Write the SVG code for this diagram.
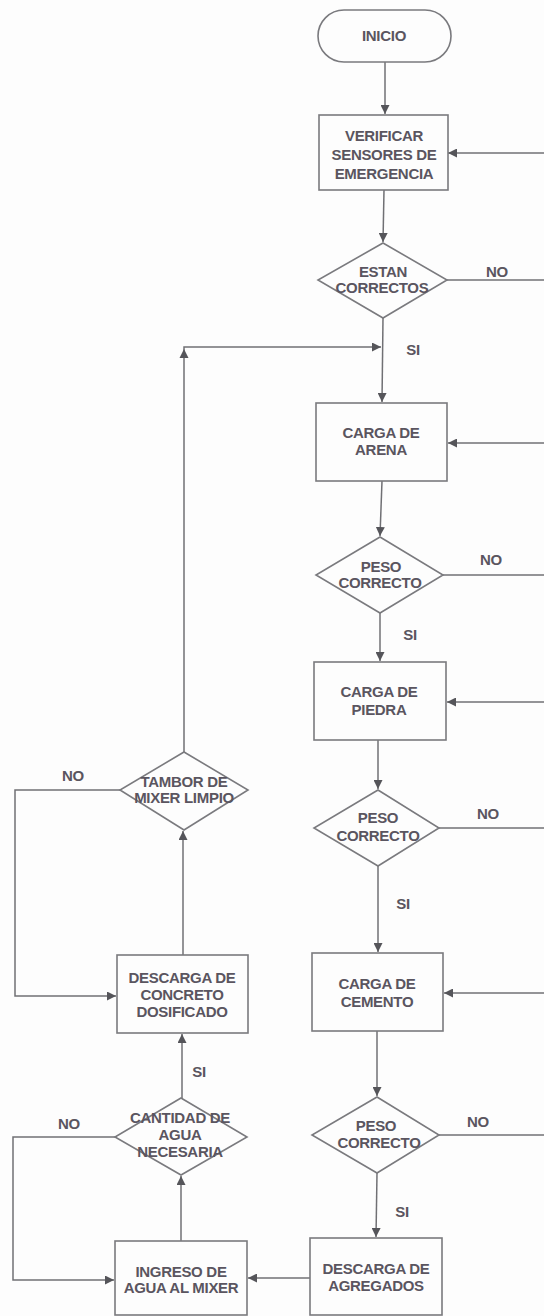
<svg xmlns="http://www.w3.org/2000/svg" width="544" height="1316" viewBox="0 0 544 1316">
<style>
.bg{fill:#fdfdfd}
.n{fill:#fdfdfd;stroke:#7a7a7e;stroke-width:1.6}
.t{font-family:"Liberation Sans",Arial,sans-serif;font-size:15px;font-weight:bold;fill:#5a5560;text-anchor:middle;letter-spacing:-0.3px}
.c{fill:none;stroke:#707074;stroke-width:1.5}
.ah{fill:#55555a}
</style>
<defs>
<marker id="arr" markerUnits="userSpaceOnUse" markerWidth="10" markerHeight="9" refX="9" refY="4.5" orient="auto" viewBox="0 0 10 9">
<path d="M0,0 L9,4.5 L0,9 z" fill="#55555a"/>
</marker>
</defs>
<rect class="bg" x="0" y="0" width="544" height="1316"/>

<g id="connectors">
<path class="c" d="M385 62 L385 114" marker-end="url(#arr)"/>
<path class="c" d="M544 153 L448 153" marker-end="url(#arr)"/>
<path class="c" d="M384 190 L383 242" marker-end="url(#arr)"/>
<path class="c" d="M447 280 L544 280"/>
<path class="c" d="M383 318 L382 402" marker-end="url(#arr)"/>
<path class="c" d="M184 752 L184 347 L381 347" marker-end="url(#arr)"/>
<polygon class="ah" points="184,349 179.5,358 188.5,358"/>
<path class="c" d="M544 443 L448 443" marker-end="url(#arr)"/>
<path class="c" d="M382 481 L380 536" marker-end="url(#arr)"/>
<path class="c" d="M443 575 L544 575"/>
<path class="c" d="M380 613 L380 661" marker-end="url(#arr)"/>
<path class="c" d="M544 702 L447 702" marker-end="url(#arr)"/>
<path class="c" d="M378 740 L378 789" marker-end="url(#arr)"/>
<path class="c" d="M439 828 L544 828"/>
<path class="c" d="M378 866 L378 952" marker-end="url(#arr)"/>
<path class="c" d="M544 993 L444 993" marker-end="url(#arr)"/>
<path class="c" d="M377 1031 L377 1096" marker-end="url(#arr)"/>
<path class="c" d="M439 1135 L544 1135"/>
<path class="c" d="M377 1173 L376 1237" marker-end="url(#arr)"/>
<path class="c" d="M310 1278 L248 1278" marker-end="url(#arr)"/>
<path class="c" d="M181 1241 L181 1176" marker-end="url(#arr)"/>
<path class="c" d="M115 1137 L13 1137 L13 1280 L114 1280" marker-end="url(#arr)"/>
<path class="c" d="M182 1098 L182 1034" marker-end="url(#arr)"/>
<path class="c" d="M183 955 L183 831" marker-end="url(#arr)"/>
<path class="c" d="M120 790 L15 790 L15 996 L116 996" marker-end="url(#arr)"/>
</g>

<g id="labels">
<text class="t" x="497" y="277">NO</text>
<text class="t" x="413" y="355">SI</text>
<text class="t" x="491" y="565">NO</text>
<text class="t" x="410" y="640">SI</text>
<text class="t" x="488" y="819">NO</text>
<text class="t" x="403" y="909">SI</text>
<text class="t" x="478" y="1127">NO</text>
<text class="t" x="402" y="1217">SI</text>
<text class="t" x="73" y="781">NO</text>
<text class="t" x="69" y="1129">NO</text>
<text class="t" x="199" y="1077">SI</text>
</g>

<g id="inicio">
<rect class="n" x="318" y="10" width="133" height="52" rx="26" ry="26"/>
<text class="t" x="384" y="41">INICIO</text>
</g>

<g id="verificar">
<rect class="n" x="319" y="115" width="129" height="75"/>
<text class="t" x="384" y="141">VERIFICAR</text>
<text class="t" x="384" y="160">SENSORES DE</text>
<text class="t" x="384" y="179">EMERGENCIA</text>
</g>

<g id="estan-correctos">
<polygon class="n" points="383,243 447,280 383,318 318,280"/>
<text class="t" x="383" y="277">ESTAN</text>
<text class="t" x="382" y="293">CORRECTOS</text>
</g>

<g id="carga-arena">
<rect class="n" x="316" y="403" width="131" height="78"/>
<text class="t" x="381" y="438">CARGA DE</text>
<text class="t" x="381" y="455">ARENA</text>
</g>

<g id="peso-1">
<polygon class="n" points="380,537 443,575 380,613 316,575"/>
<text class="t" x="381" y="572">PESO</text>
<text class="t" x="380" y="588">CORRECTO</text>
</g>

<g id="carga-piedra">
<rect class="n" x="314" y="662" width="132" height="78"/>
<text class="t" x="379" y="697">CARGA DE</text>
<text class="t" x="379" y="715">PIEDRA</text>
</g>

<g id="peso-2">
<polygon class="n" points="378,790 439,828 378,866 314,828"/>
<text class="t" x="378" y="823">PESO</text>
<text class="t" x="378" y="841">CORRECTO</text>
</g>

<g id="carga-cemento">
<rect class="n" x="312" y="953" width="131" height="78"/>
<text class="t" x="377" y="989">CARGA DE</text>
<text class="t" x="377" y="1007">CEMENTO</text>
</g>

<g id="peso-3">
<polygon class="n" points="377,1097 439,1135 377,1173 312,1135"/>
<text class="t" x="376" y="1131">PESO</text>
<text class="t" x="379" y="1148">CORRECTO</text>
</g>

<g id="descarga-agregados">
<rect class="n" x="310" y="1238" width="132" height="77"/>
<text class="t" x="376" y="1274">DESCARGA DE</text>
<text class="t" x="376" y="1291">AGREGADOS</text>
</g>

<g id="ingreso-agua">
<rect class="n" x="115" y="1241" width="132" height="74"/>
<text class="t" x="181" y="1277">INGRESO DE</text>
<text class="t" x="181" y="1293">AGUA AL MIXER</text>
</g>

<g id="cantidad-agua">
<polygon class="n" points="181,1098 247,1137 181,1175 115,1137"/>
<text class="t" x="180" y="1123">CANTIDAD DE</text>
<text class="t" x="180" y="1140">AGUA</text>
<text class="t" x="180" y="1157">NECESARIA</text>
</g>

<g id="descarga-concreto">
<rect class="n" x="117" y="955" width="131" height="78"/>
<text class="t" x="182" y="983">DESCARGA DE</text>
<text class="t" x="182" y="1000">CONCRETO</text>
<text class="t" x="182" y="1017">DOSIFICADO</text>
</g>

<g id="tambor-limpio">
<polygon class="n" points="184,752 248,790 184,830 120,790"/>
<text class="t" x="184" y="787">TAMBOR DE</text>
<text class="t" x="184" y="803">MIXER LIMPIO</text>
</g>
</svg>
